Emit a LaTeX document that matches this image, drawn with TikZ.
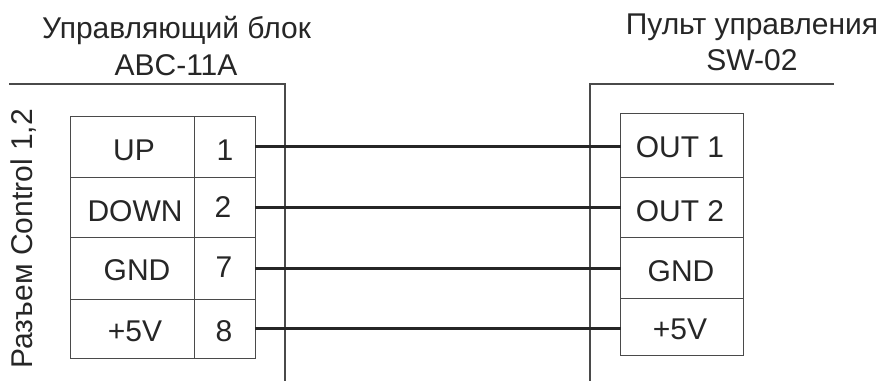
\documentclass[tikz,border=0pt]{standalone}
\usepackage{fontspec}
\setmainfont{Liberation Sans}
\definecolor{ink}{HTML}{262626}
\definecolor{linegray}{HTML}{4A4A4A}
\tikzset{
  cell/.style={draw=linegray,line width=1pt,minimum width=#1,inner sep=0pt,outer sep=0pt,anchor=center},
  txt/.style={text=ink,font=\fontsize{30}{34}\selectfont,inner sep=0pt,anchor=center},
  housing/.style={draw=linegray,line width=1.3pt},
  wire/.style={draw=ink,line width=3pt}
}
\begin{document}
\begin{tikzpicture}[x=1pt,y=-1pt]
\useasboundingbox (0,0) rectangle (882,385);
% left table
\node[cell=124pt,minimum height=61.5pt] (lu) at (132,146.75) {};
\node[cell=124pt,minimum height=59.5pt] (ld) at (132,207.25) {};
\node[cell=124pt,minimum height=62pt] (lg) at (132,268) {};
\node[cell=124pt,minimum height=59pt] (lv) at (132,328.5) {};
\node[cell=61pt,minimum height=61.5pt] (p1) at (224.5,146.75) {};
\node[cell=61pt,minimum height=59.5pt] (p2) at (224.5,207.25) {};
\node[cell=61pt,minimum height=62pt] (p7) at (224.5,268) {};
\node[cell=61pt,minimum height=59pt] (p8) at (224.5,328.5) {};
% right table
\node[cell=122.5pt,minimum height=64.5pt] (r1) at (681.75,145.25) {};
\node[cell=122.5pt,minimum height=59.5pt] (r2) at (681.75,207.25) {};
\node[cell=122.5pt,minimum height=61pt] (r3) at (681.75,267.5) {};
\node[cell=122.5pt,minimum height=57pt] (r4) at (681.75,326.5) {};
% housings
\coordinate (ha) at (9,84);
\coordinate (hb) at (285,84);
\coordinate (hc) at (285,381);
\coordinate (hd) at (834,84);
\coordinate (he) at (590,84);
\coordinate (hf) at (590,381);
\draw[housing] (ha) -- (hb) -- (hc);
\draw[housing] (hd) -- (he) -- (hf);
% wires
\draw[wire] (p1.east) -- (p1.east -| r1.west);
\draw[wire] (p2.east) -- (p2.east -| r2.west);
\draw[wire] (p7.east) -- (p7.east -| r3.west);
\draw[wire] (p8.east) -- (p8.east -| r4.west);
% texts
\node[txt] (t1) at (176.5,30) {Управляющий блок};
\node[txt] (t2) at (176,65) {ABC-11A};
\node[txt] (t3) at (752,27) {Пульт управления};
\node[txt] (t4) at (752,60) {SW-02};
\node[txt,rotate=90] (t5) at (24,239) {Разъем Control 1,2};
\node[txt] (a1) at (134,150) {UP};
\node[txt] (a2) at (135,211) {DOWN};
\node[txt] (a3) at (137,270) {GND};
\node[txt] (a4) at (135,331) {+5V};
\node[txt] (b1) at (225,150) {1};
\node[txt] (b2) at (223,207) {2};
\node[txt] (b3) at (224,267) {7};
\node[txt] (b4) at (224,331) {8};
\node[txt] (c1) at (680,147) {OUT 1};
\node[txt] (c2) at (680,211) {OUT 2};
\node[txt] (c3) at (681,271) {GND};
\node[txt] (c4) at (680,329) {+5V};
\end{tikzpicture}
\end{document}
